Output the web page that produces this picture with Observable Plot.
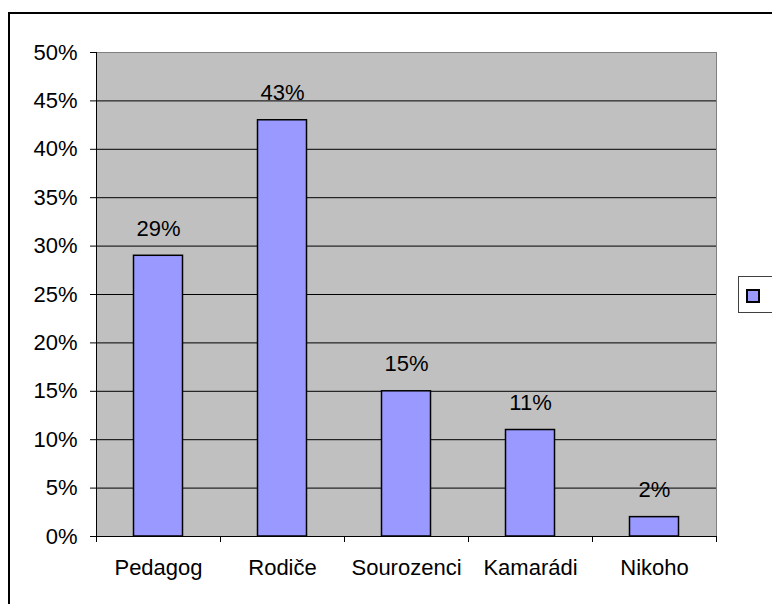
<!DOCTYPE html>
<html>
<head>
<meta charset="utf-8">
<script src="https://cdn.jsdelivr.net/npm/d3@7"></script>
<script src="https://cdn.jsdelivr.net/npm/@observablehq/plot@0.6"></script>
<style>
  html, body { margin: 0; padding: 0; background: #fff; }
  #wrap { position: relative; width: 772px; height: 604px; overflow: hidden; font-family: "Liberation Sans", Arial, sans-serif; }
  #frame { position: absolute; left: 8px; top: 12px; width: 820px; height: 640px; border: 2px solid #000; box-sizing: border-box; pointer-events: none; }
  #chart { position: absolute; left: 0; top: 0; }
  #legend { position: absolute; left: 738px; top: 276px; width: 60px; height: 37px; border: 1px solid #404040; background: #fff; box-sizing: border-box; }
  #legend .sw { position: absolute; left: 7px; top: 12px; width: 14px; height: 14px; border: 2px solid #000; box-sizing: border-box; }
</style>
</head>
<body>
<div id="wrap">
  <div id="chart"></div>
  <div id="frame"></div>
  <div id="legend"><div class="sw"></div></div>
</div>
<script>
const categories = ["Pedagog", "Rodiče", "Sourozenci", "Kamarádi", "Nikoho"];
const values = [29, 43, 15, 11, 2];
const yTicks = [0, 5, 10, 15, 20, 25, 30, 35, 40, 45, 50];
const barColor = "#9999ff";

const data = categories.map((c, i) => ({category: c, index: i, value: values[i]}));
document.querySelector("#legend .sw").style.background = barColor;

const W = 772, H = 604, mL = 96, mR = 56, mT = 52, mB = 68;
const step = (W - mL - mR) / categories.length;
const barInset = (step - 49) / 2;

const chart = Plot.plot({
  width: W,
  height: H,
  marginLeft: mL,
  marginRight: mR,
  marginTop: mT,
  marginBottom: mB,
  style: {fontFamily: "'Liberation Sans', Arial, sans-serif", fontSize: "22px", color: "#000", background: "transparent"},
  x: {type: "linear", domain: [0, categories.length], label: null},
  y: {domain: [0, 50], label: null},
  marks: [
    Plot.frame({fill: "#c0c0c0", stroke: "#808080"}),
    Plot.ruleY(yTicks.filter(d => d > 0 && d < 50), {stroke: "#000", strokeWidth: 1}),
    Plot.ruleY([0], {stroke: "#000", strokeWidth: 1}),
    Plot.ruleX([0], {stroke: "#000", strokeWidth: 1}),
    Plot.rectY(data, {
      x1: d => d.index, x2: d => d.index + 1, y: "value",
      fill: barColor, stroke: "#000", strokeWidth: 1.5,
      insetLeft: barInset, insetRight: barInset
    }),
    Plot.text(data, {
      x: d => d.index + 0.5, y: "value", text: d => d.value + "%",
      dy: -27, fill: "#000"
    }),
    Plot.axisY({ticks: yTicks, tickSize: 6, tickPadding: 13, tickFormat: d => d + "%", stroke: "#000", fill: "#000", label: null}),
    Plot.axisX({ticks: d3.range(categories.length + 1), tickSize: 6, tickFormat: () => "", stroke: "#000", label: null}),
    Plot.axisX({ticks: categories.map((c, i) => i + 0.5), tickSize: 0, tickPadding: 23, tickFormat: d => categories[Math.floor(d)], fill: "#000", label: null})
  ]
});
document.getElementById("chart").appendChild(chart);
</script>
</body>
</html>
